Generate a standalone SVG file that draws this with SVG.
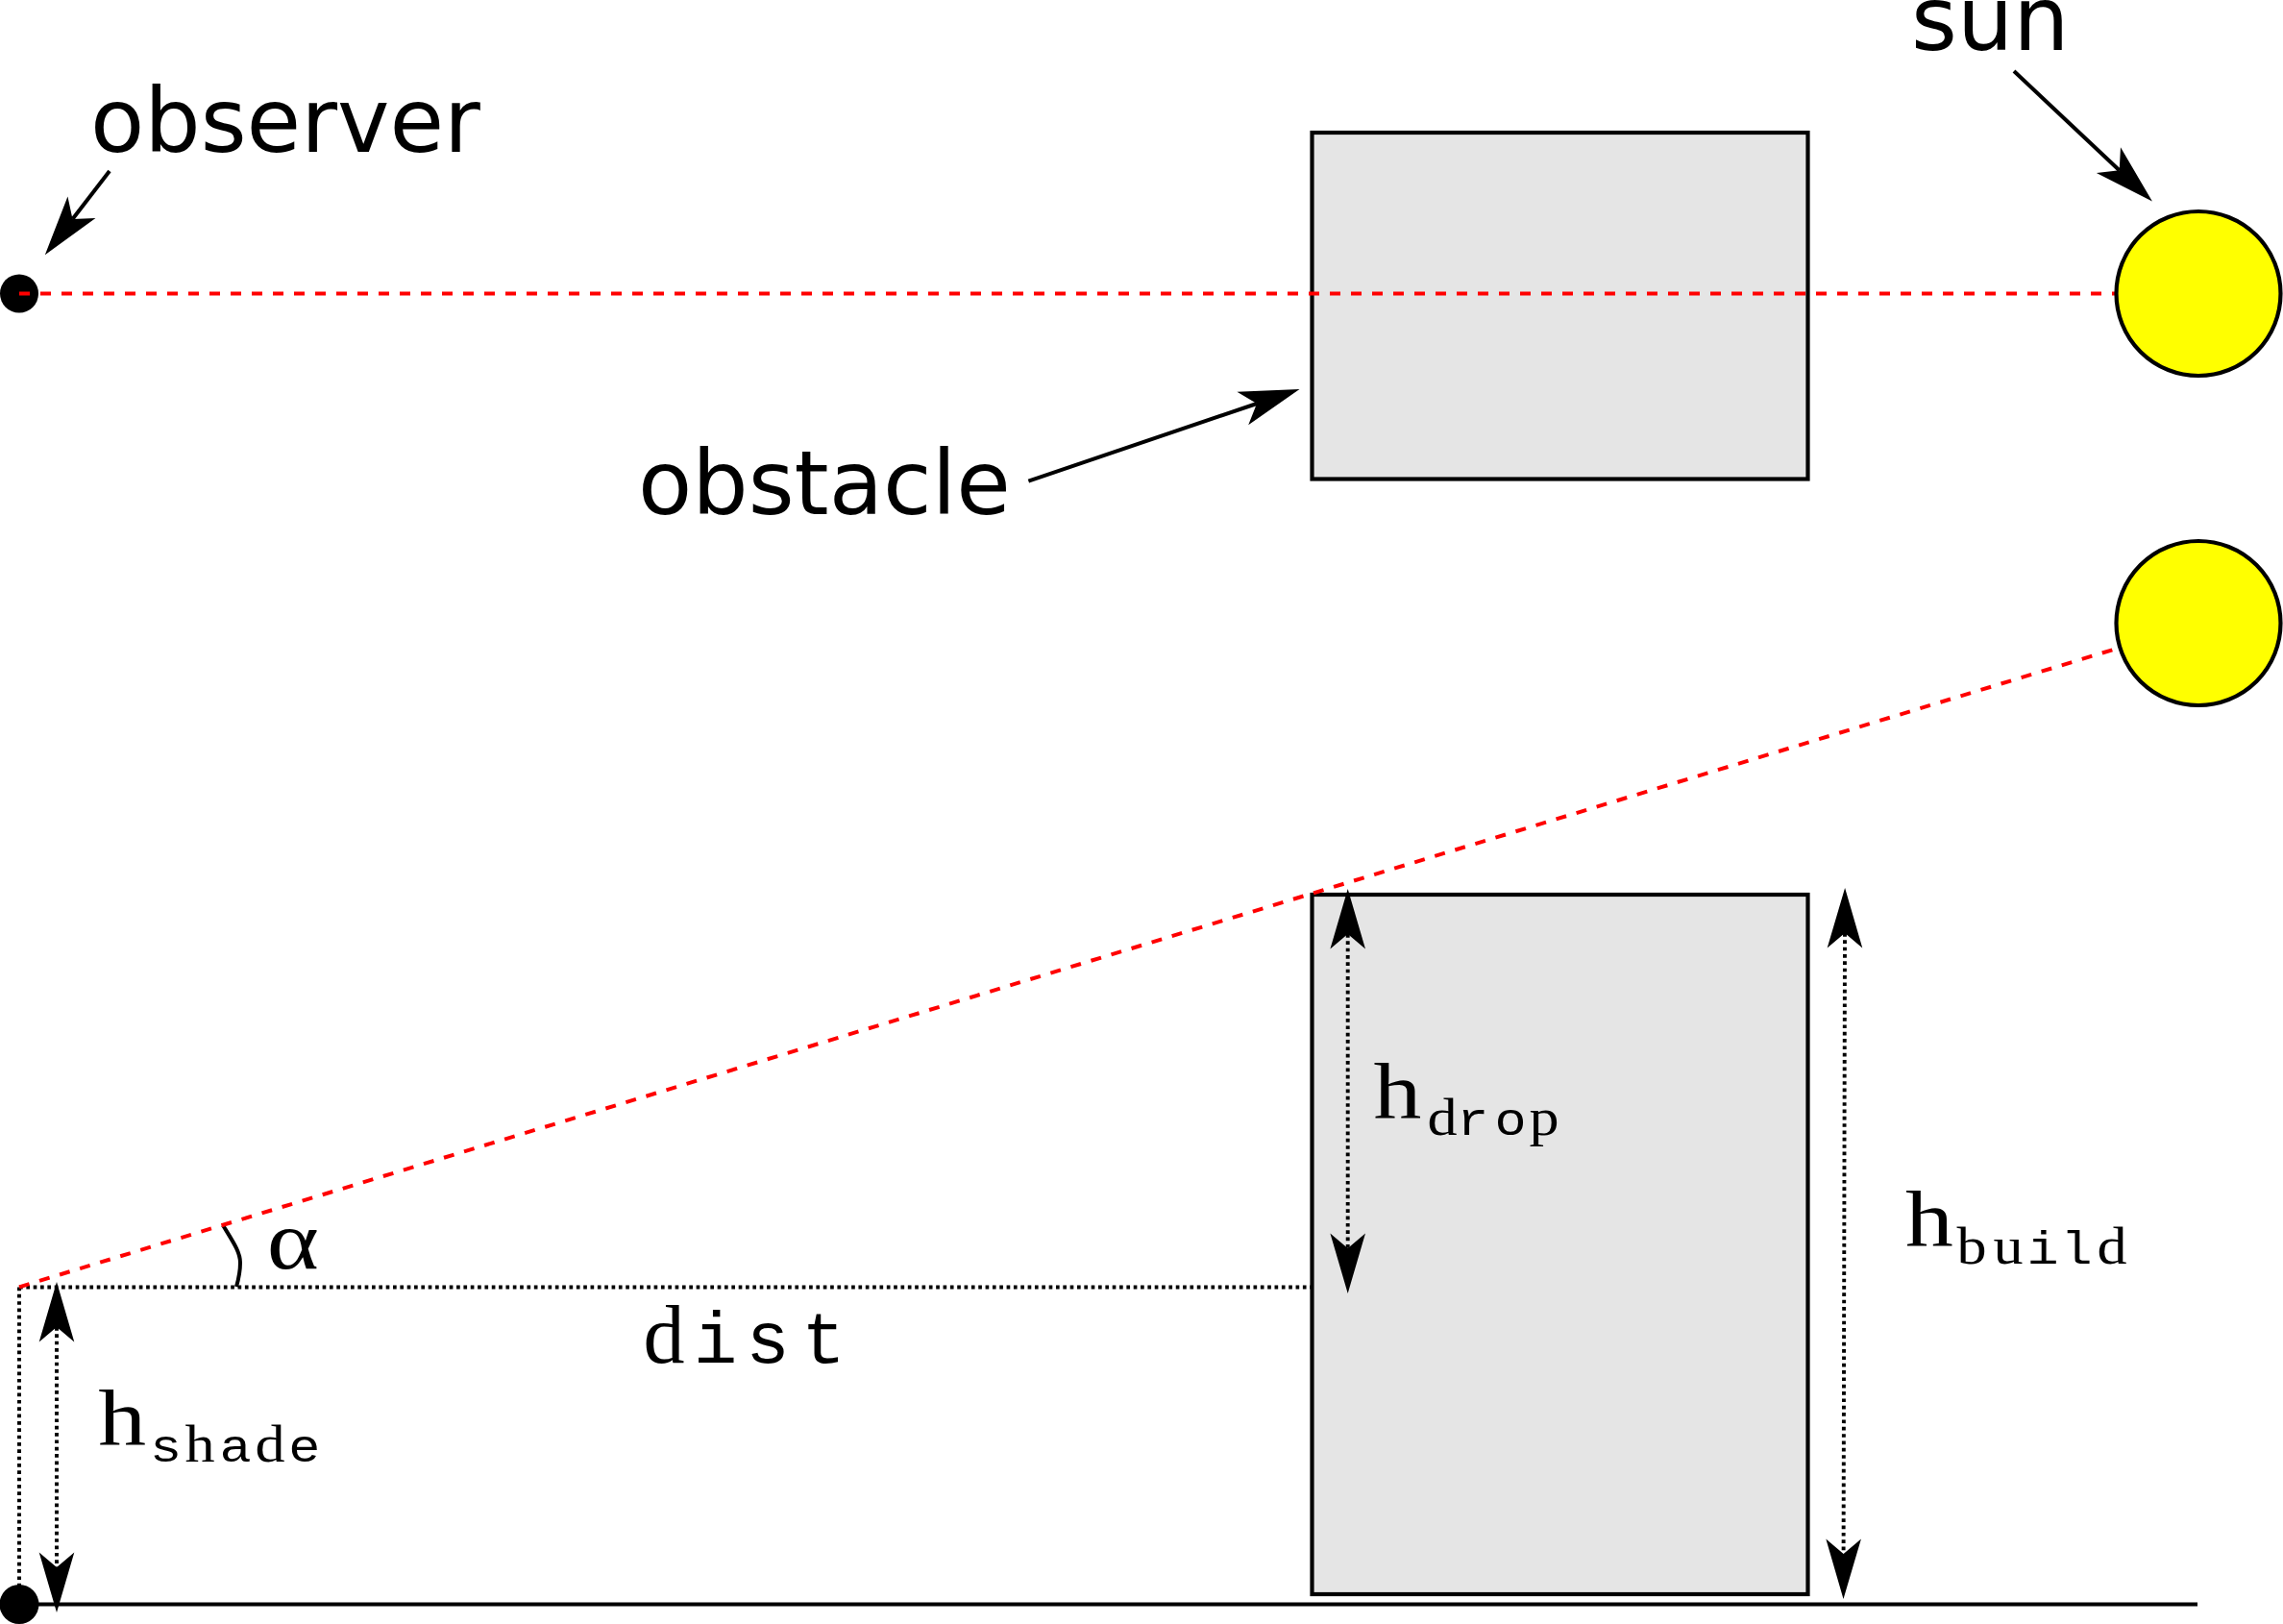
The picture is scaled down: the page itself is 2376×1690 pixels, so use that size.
<svg xmlns="http://www.w3.org/2000/svg" width="2376" height="1690" viewBox="0 0 2376 1690">
<style>
.box{fill:#e5e5e5;stroke:#000;stroke-width:4.2}
.sun{fill:#ff0;stroke:#000;stroke-width:4.2}
.dot{fill:#000}
.ray{fill:none;stroke:#f00;stroke-width:4;stroke-dasharray:11 11}
.dim{fill:none;stroke:#000;stroke-width:3.9;stroke-dasharray:3.67 3.67}
.lead{fill:none;stroke:#000;stroke-width:4;marker-end:url(#head)}
.both{marker-start:url(#head);marker-end:url(#head)}
.solid{fill:none;stroke:#000;stroke-width:4}
.label{font-family:"DejaVu Sans",sans-serif;font-size:92px;fill:#000}
.math{text-anchor:middle;fill:#000;font-family:"Liberation Mono",monospace;font-size:76px}
.s{font-family:"Liberation Serif",serif;font-size:86px}
.big{font-family:"Liberation Serif",serif;font-size:83px}
.sub{font-size:48px}
.ss{font-family:"Liberation Serif",serif;font-size:54px}
</style>
<defs>
<marker id="head" markerUnits="userSpaceOnUse" viewBox="-16 -20 64 40" markerWidth="64" markerHeight="40" refX="0" refY="0" orient="auto-start-reverse">
<path d="M47,0 L-15.5,-18.3 L0,0 L-15.5,18.3 Z" fill="#000"/>
</marker>
</defs>
<rect x="0" y="0" width="2376" height="1690" fill="#fff"/>
<g id="obstacle-top"><rect class="box" x="1365.5" y="138" width="516" height="360.5"/></g>
<g id="obstacle-bottom"><rect class="box" x="1365.5" y="931" width="516" height="728"/></g>
<g id="connectors">
<line class="solid" x1="20" y1="1669.5" x2="2287" y2="1669.5"/>
<line class="dim" x1="20" y1="1339.5" x2="1365" y2="1339.5"/>
<line class="dim" x1="20" y1="1339.5" x2="20" y2="1650"/>
<line class="dim both" x1="59" y1="1381" x2="59" y2="1631"/>
<line class="dim both" x1="1402.7" y1="972" x2="1402.7" y2="1299"/>
<line class="dim both" x1="1920" y1="971" x2="1918.6" y2="1617"/>
<line class="lead" x1="114" y1="178" x2="75.5" y2="228"/>
<line class="lead" x1="2096" y1="74" x2="2205.7" y2="177.3"/>
<line class="lead" x1="1070.4" y1="500.7" x2="1308" y2="420"/>
<path class="solid" d="M232,1275 C243,1293 250,1303 250,1314 C250,1325 248,1332 246,1339"/>
</g>
<g id="observer-top"><circle class="dot" cx="20" cy="305.5" r="20"/></g>
<g id="observer-bottom"><circle class="dot" cx="20" cy="1669.5" r="20.5"/></g>
<g id="rays">
<line class="ray" x1="20" y1="305.5" x2="2288" y2="305.5"/>
<line class="ray" x1="20" y1="1339.3" x2="2288" y2="649"/>
</g>
<g id="sun-top"><circle class="sun" cx="2288" cy="305.5" r="85.5"/></g>
<g id="sun-bottom"><circle class="sun" cx="2288" cy="648.5" r="85.5"/></g>
<g id="labels">
<text class="label" x="94" y="158">observer</text>
<text class="label" x="664" y="535">obstacle</text>
<text class="label" x="1989" y="51.5">sun</text>
<text class="math" y="1418"><tspan class="s" x="691">d</tspan><tspan x="744.5">i</tspan><tspan x="799">s</tspan><tspan x="857">t</tspan></text>
<text class="math s" transform="scale(1.2,1)" x="254" y="1320">α</text>
<g transform="scale(1.2,1)">
<text class="math big" x="106" y="1503">h</text>
<text class="math big" x="1212.1" y="1163">h</text>
<text class="math big" x="1673.3" y="1296.5">h</text>
</g>
<g transform="scale(1.15,1)">
<text class="math sub" y="1521.5"><tspan x="150">s</tspan><tspan class="ss" x="180.9">h</tspan><tspan x="213">a</tspan><tspan class="ss" x="244.3">d</tspan><tspan x="275.4">e</tspan></text>
<text class="math sub" y="1181.5"><tspan class="ss" x="1305.2">d</tspan><tspan x="1333">r</tspan><tspan x="1367">o</tspan><tspan class="ss" x="1397.4">p</tspan></text>
<text class="math sub" y="1315"><tspan class="ss" x="1784.3">b</tspan><tspan class="ss" x="1817.4">u</tspan><tspan x="1848.7">i</tspan><tspan x="1879.1">l</tspan><tspan class="ss" x="1911.3">d</tspan></text>
</g>
</g>
</svg>
